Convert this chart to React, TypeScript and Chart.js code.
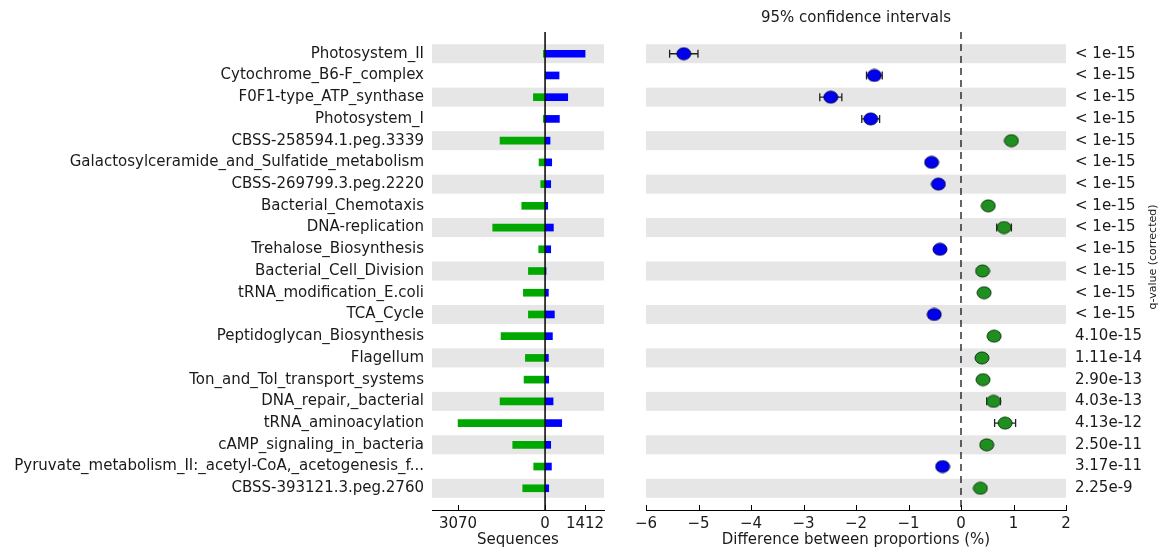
import React, { useEffect, useRef } from "react";
import { Chart, registerables } from "chart.js";

Chart.register(...registerables);

// Pathways, top to bottom
const pathways = [
  "Photosystem_II",
  "Cytochrome_B6-F_complex",
  "F0F1-type_ATP_synthase",
  "Photosystem_I",
  "CBSS-258594.1.peg.3339",
  "Galactosylceramide_and_Sulfatide_metabolism",
  "CBSS-269799.3.peg.2220",
  "Bacterial_Chemotaxis",
  "DNA-replication",
  "Trehalose_Biosynthesis",
  "Bacterial_Cell_Division",
  "tRNA_modification_E.coli",
  "TCA_Cycle",
  "Peptidoglycan_Biosynthesis",
  "Flagellum",
  "Ton_and_Tol_transport_systems",
  "DNA_repair,_bacterial",
  "tRNA_aminoacylation",
  "cAMP_signaling_in_bacteria",
  "Pyruvate_metabolism_II:_acetyl-CoA,_acetogenesis_f...",
  "CBSS-393121.3.peg.2760",
];

// Sequence counts per group (green drawn to the left, blue to the right)
const seqsGreen = [60, 0, 412, 60, 1588, 212, 153, 823, 1847, 224, 588, 765, 588, 1553, 694, 741, 1588, 3070, 1141, 400, 788];
const seqsBlue = [1412, 494, 800, 506, 176, 235, 200, 94, 294, 200, 35, 118, 329, 259, 118, 129, 282, 588, 200, 224, 129];

// Difference between proportions (%) and 95% CI half-widths
const diffMean = [-5.28, -1.65, -2.48, -1.72, 0.96, -0.56, -0.43, 0.52, 0.82, -0.40, 0.41, 0.44, -0.51, 0.63, 0.40, 0.42, 0.62, 0.84, 0.49, -0.35, 0.37];
const diffCI = [0.27, 0.15, 0.21, 0.17, 0.08, 0.06, 0.07, 0.07, 0.14, 0.06, 0.06, 0.06, 0.10, 0.10, 0.07, 0.07, 0.13, 0.20, 0.10, 0.09, 0.06];

// Corrected q-values
const qValues = [
  "< 1e-15", "< 1e-15", "< 1e-15", "< 1e-15", "< 1e-15", "< 1e-15", "< 1e-15",
  "< 1e-15", "< 1e-15", "< 1e-15", "< 1e-15", "< 1e-15", "< 1e-15",
  "4.10e-15", "1.11e-14", "2.90e-13", "4.03e-13", "4.13e-12", "2.50e-11", "3.17e-11", "2.25e-9",
];

const seqTicks = [-3070, 0, 1412];
const diffTicks = [-6, -5, -4, -3, -2, -1, 0, 1, 2];

const FONT_FAMILY = "DejaVu Sans";
const TEXT = "#1a1a1a";
const BAND = "#e6e6e6";
const BLUE = "#0000ff";
const GREEN_BAR = "#00a800";
const font = { family: FONT_FAMILY, size: 15 };
const rowIdx = pathways.map((_, i) => i);

function makeDot(fill: string, edge: string) {
  const c = document.createElement("canvas");
  c.width = 16;
  c.height = 14;
  const g = c.getContext("2d")!;
  g.beginPath();
  g.ellipse(8, 7, 7, 6, 0, 0, Math.PI * 2);
  g.fillStyle = fill;
  g.fill();
  g.lineWidth = 1;
  g.strokeStyle = edge;
  g.stroke();
  return c;
}

function drawBands(chart: any) {
  const { ctx, chartArea } = chart;
  const y = chart.scales.y;
  ctx.save();
  ctx.fillStyle = BAND;
  rowIdx.forEach((i) => {
    if (i % 2 !== 0) return;
    const py = y.getPixelForValue(i);
    ctx.fillRect(chartArea.left, py - 9.5, chartArea.right - chartArea.left, 19);
  });
  ctx.restore();
}

function drawInwardTicks(chart: any, values: number[]) {
  const { ctx, chartArea } = chart;
  const x = chart.scales.x;
  ctx.save();
  ctx.strokeStyle = "#000";
  ctx.lineWidth = 1;
  values.forEach((v) => {
    const px = Math.round(x.getPixelForValue(v)) + 0.5;
    ctx.beginPath();
    ctx.moveTo(px, chartArea.bottom);
    ctx.lineTo(px, chartArea.bottom - 5);
    ctx.stroke();
  });
  ctx.restore();
}

const seqDecor = {
  id: "seqDecor",
  beforeDatasetsDraw(chart: any) {
    drawBands(chart);
  },
  afterDatasetsDraw(chart: any) {
    const { ctx, chartArea } = chart;
    const px = chart.scales.x.getPixelForValue(0);
    ctx.save();
    ctx.strokeStyle = "#000";
    ctx.lineWidth = 1.5;
    ctx.beginPath();
    ctx.moveTo(px, chartArea.top);
    ctx.lineTo(px, chartArea.bottom);
    ctx.stroke();
    ctx.restore();
    drawInwardTicks(chart, seqTicks);
  },
};

const ciDecor = {
  id: "ciDecor",
  beforeDatasetsDraw(chart: any) {
    drawBands(chart);
    const { ctx, chartArea } = chart;
    const x = chart.scales.x;
    const y = chart.scales.y;
    // dashed zero line
    const zx = x.getPixelForValue(0);
    ctx.save();
    ctx.strokeStyle = "#000";
    ctx.lineWidth = 1.2;
    ctx.setLineDash([7, 5]);
    ctx.beginPath();
    ctx.moveTo(zx, chartArea.top);
    ctx.lineTo(zx, chartArea.bottom);
    ctx.stroke();
    ctx.setLineDash([]);
    // confidence interval whiskers
    ctx.strokeStyle = "#222";
    ctx.lineWidth = 1.3;
    diffMean.forEach((m, i) => {
      const py = y.getPixelForValue(i);
      const x0 = x.getPixelForValue(m - diffCI[i]);
      const x1 = x.getPixelForValue(m + diffCI[i]);
      ctx.beginPath();
      ctx.moveTo(x0, py);
      ctx.lineTo(x1, py);
      ctx.moveTo(x0, py - 4);
      ctx.lineTo(x0, py + 4);
      ctx.moveTo(x1, py - 4);
      ctx.lineTo(x1, py + 4);
      ctx.stroke();
    });
    ctx.restore();
  },
  afterDraw(chart: any) {
    const { ctx, chartArea } = chart;
    drawInwardTicks(chart, diffTicks);
    ctx.save();
    ctx.fillStyle = TEXT;
    ctx.font = `15px "${FONT_FAMILY}"`;
    ctx.textAlign = "center";
    ctx.textBaseline = "middle";
    ctx.fillText("95% confidence intervals", (chartArea.left + chartArea.right) / 2, 18);
    ctx.font = `11px "${FONT_FAMILY}"`;
    ctx.translate(538, (chartArea.top + chartArea.bottom) / 2 - 14);
    ctx.rotate(-Math.PI / 2);
    ctx.fillText("q-value (corrected)", 0, 0);
    ctx.restore();
  },
};

export default function App() {
  const leftRef = useRef<HTMLCanvasElement>(null);
  const rightRef = useRef<HTMLCanvasElement>(null);

  useEffect(() => {
    const left = new Chart(leftRef.current!, {
      type: "bar",
      data: {
        datasets: [
          {
            label: "green",
            data: seqsGreen.map((v, i) => ({ x: -v, y: i })),
            backgroundColor: GREEN_BAR,
            barThickness: 7,
            grouped: false,
          } as any,
          {
            label: "blue",
            data: seqsBlue.map((v, i) => ({ x: v, y: i })),
            backgroundColor: BLUE,
            barThickness: 7,
            grouped: false,
          } as any,
        ],
      },
      options: {
        indexAxis: "y",
        responsive: false,
        animation: false,
        layout: { padding: { top: 32, right: 11, left: 0, bottom: 0 } },
        plugins: { legend: { display: false }, tooltip: { enabled: false } },
        scales: {
          x: {
            type: "linear",
            min: -3990,
            max: 2080,
            afterBuildTicks: (s: any) => {
              s.ticks = seqTicks.map((v) => ({ value: v }));
            },
            ticks: {
              callback: (v: any) => String(Math.abs(Number(v))),
              font,
              color: TEXT,
              padding: 5,
              maxRotation: 0,
              autoSkip: false,
            },
            grid: { display: true, drawOnChartArea: false, drawTicks: false },
            border: { display: true, color: "#000", width: 1 },
            title: { display: true, text: "Sequences", font, color: TEXT, padding: { top: 0, bottom: 1 } },
            afterFit: (s: any) => {
              s.height = 40;
            },
          },
          y: {
            type: "linear",
            offset: false,
            min: -1,
            max: 21,
            reverse: true,
            afterBuildTicks: (s: any) => {
              s.ticks = rowIdx.map((v) => ({ value: v }));
            },
            ticks: {
              callback: (v: any) => pathways[Number(v)] ?? "",
              font,
              color: TEXT,
              padding: 8,
              autoSkip: false,
            },
            grid: { display: false, drawTicks: false, offset: false },
            border: { display: false },
            afterFit: (s: any) => {
              s.width = 432;
            },
          },
        },
      } as any,
      plugins: [seqDecor],
    });

    const blueDot = makeDot("#0000f0", "#000060");
    const greenDot = makeDot("#1f8f1f", "#0b3a0b");

    const right = new Chart(rightRef.current!, {
      type: "scatter",
      data: {
        datasets: [
          {
            label: "difference",
            data: diffMean.map((m, i) => ({ x: m, y: i })),
            pointStyle: (c: any) => (diffMean[c.dataIndex] < 0 ? blueDot : greenDot),
            pointRadius: 7,
          } as any,
        ],
      },
      options: {
        responsive: false,
        animation: false,
        layout: { padding: { top: 32, right: 0, left: 31, bottom: 0 } },
        plugins: { legend: { display: false }, tooltip: { enabled: false } },
        scales: {
          x: {
            type: "linear",
            min: -6,
            max: 2,
            afterBuildTicks: (s: any) => {
              s.ticks = diffTicks.map((v) => ({ value: v }));
            },
            ticks: {
              callback: (v: any) => (Number(v) < 0 ? "\u2212" + Math.abs(Number(v)) : String(v)),
              font,
              color: TEXT,
              padding: 5,
              maxRotation: 0,
              autoSkip: false,
            },
            grid: { display: true, drawOnChartArea: false, drawTicks: false },
            border: { display: true, color: "#000", width: 1 },
            title: {
              display: true,
              text: "Difference between proportions (%)",
              font,
              color: TEXT,
              padding: { top: 0, bottom: 1 },
            },
            afterFit: (s: any) => {
              s.height = 40;
            },
          },
          y: {
            type: "linear",
            position: "right",
            min: -1,
            max: 21,
            reverse: true,
            afterBuildTicks: (s: any) => {
              s.ticks = rowIdx.map((v) => ({ value: v }));
            },
            ticks: {
              callback: (v: any) => qValues[Number(v)] ?? "",
              font,
              color: TEXT,
              padding: 9,
              autoSkip: false,
            },
            grid: { display: false, drawTicks: false },
            border: { display: false },
            afterFit: (s: any) => {
              s.width = 101;
            },
          },
        },
      } as any,
      plugins: [ciDecor],
    });

    return () => {
      left.destroy();
      right.destroy();
    };
  }, []);

  return (
    <div style={{ position: "absolute", left: 0, top: 0, width: 1167, height: 550, background: "#fff" }}>
      <canvas
        ref={leftRef}
        width={615}
        height={550}
        style={{ position: "absolute", left: 0, top: 0, width: 615, height: 550 }}
      />
      <canvas
        ref={rightRef}
        width={552}
        height={550}
        style={{ position: "absolute", left: 615, top: 0, width: 552, height: 550 }}
      />
    </div>
  );
}
